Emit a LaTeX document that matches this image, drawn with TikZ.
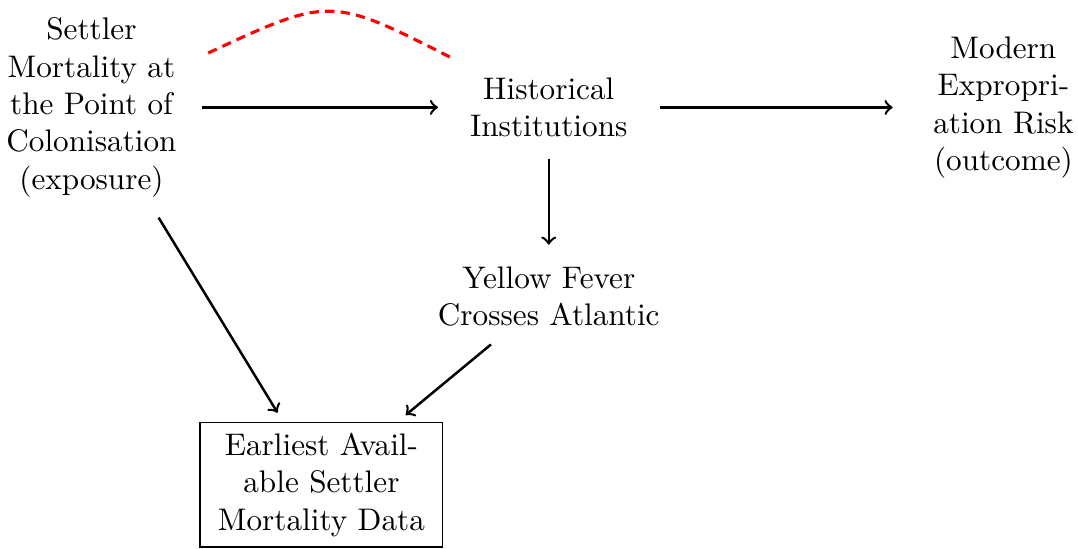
\documentclass[tikz,border=0pt]{standalone}
\usepackage{tikz}

\begin{document}
\begin{tikzpicture}[
        var/.style={align=center, text width=2cm},
        widevar/.style={align=center, text width=2.5cm},
        causal/.style={->, thick, shorten >=3.5pt, shorten <=3.5pt},
        confound/.style={red, densely dashed, line width=1pt, shorten >=5pt, shorten <=6pt}]
        \useasboundingbox (0,0) rectangle (12.14,-6.18);

        % Exposure, mediator and outcome
        \node[var] (exposure) at (1.03,-1.21) {Settler Mortality at the Point of Colonisation (exposure)};
        \node[var] (institutions) at (6.18,-1.21) {Historical Institutions};
        \node[var] (outcome) at (11.30,-1.21) {Modern Expropriation Risk (outcome)};

        % Measurement
        \node[widevar] (fever) at (6.18,-3.34) {Yellow Fever Crosses Atlantic};
        \node[widevar, draw] (data) at (3.62,-5.46) {Earliest Available Settler Mortality Data};

        % Arrows
        \draw[causal] (exposure) -- (institutions);
        \draw[causal] (institutions) -- (outcome);
        \draw[causal] (institutions) -- (fever);
        \draw[causal] (exposure) -- (data);
        \draw[causal] (fever) -- (data);

        % Confounding
        \draw[confound] (exposure) to[out=25, in=153, looseness=1.42] (institutions);
    \end{tikzpicture}
\end{document}
